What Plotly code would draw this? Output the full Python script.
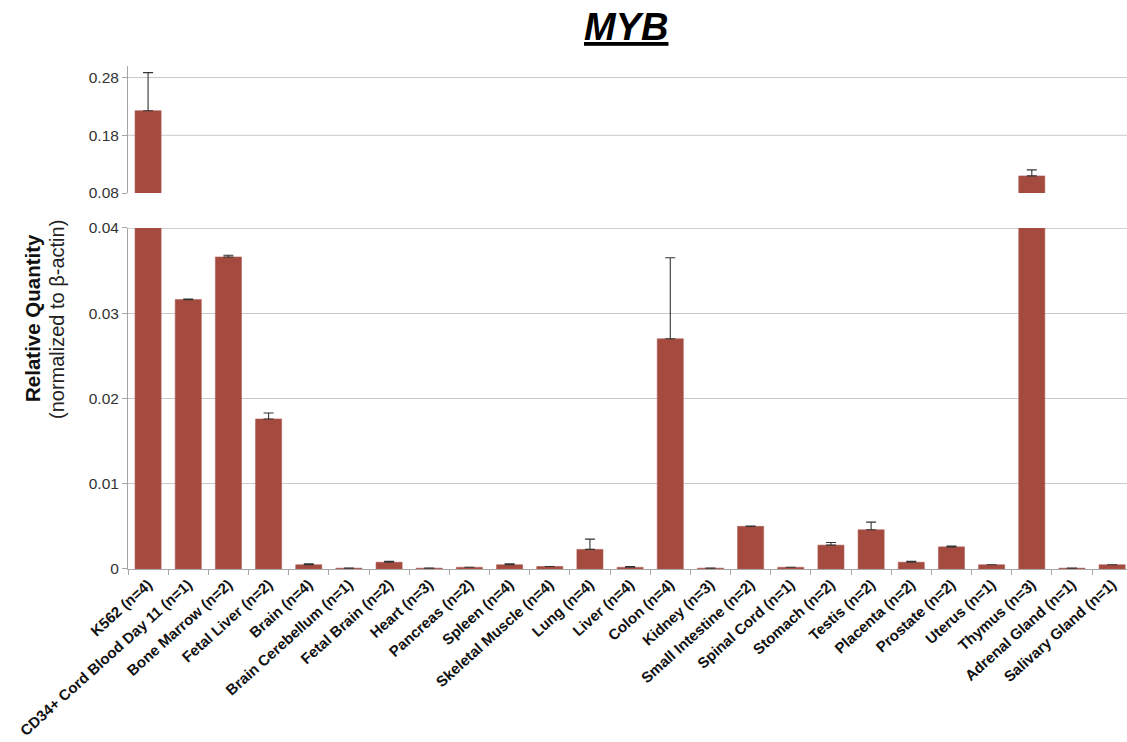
import plotly.graph_objects as go

# Tissue panel (qPCR), MYB expression relative to beta-actin
tissues = [
    "K562 (n=4)", "CD34+ Cord Blood Day 11 (n=1)", "Bone Marrow (n=2)",
    "Fetal Liver (n=2)", "Brain (n=4)", "Brain Cerebellum (n=1)",
    "Fetal Brain (n=2)", "Heart (n=3)", "Pancreas (n=2)", "Spleen (n=4)",
    "Skeletal Muscle (n=4)", "Lung (n=4)", "Liver (n=4)", "Colon (n=4)",
    "Kidney (n=3)", "Small Intestine (n=2)", "Spinal Cord (n=1)",
    "Stomach (n=2)", "Testis (n=2)", "Placenta (n=2)", "Prostate (n=2)",
    "Uterus (n=1)", "Thymus (n=3)", "Adrenal Gland (n=1)", "Salivary Gland (n=1)",
]
rel_quantity = [
    0.2226, 0.0316, 0.0366, 0.0176, 0.0005, 0.0001,
    0.0008, 0.0001, 0.0002, 0.0005, 0.0003, 0.0023,
    0.0002, 0.0270, 0.0001, 0.0050, 0.0002, 0.0028,
    0.0046, 0.0008, 0.0026, 0.0005, 0.1096, 0.0001, 0.0005,
]
err_plus = [
    0.0660, 0.00005, 0.0002, 0.0007, 0.0001, 0.0,
    0.0001, 0.0, 0.0, 0.0001, 0.0, 0.0012,
    0.0001, 0.0095, 0.0, 0.00005, 0.0, 0.0003,
    0.0009, 0.0001, 0.0001, 0.0, 0.0104, 0.0, 0.0,
]

low_ticks = [0, 0.01, 0.02, 0.03, 0.04]
low_text = ["0", "0.01", "0.02", "0.03", "0.04"]
high_ticks = [0.08, 0.18, 0.28]
high_text = ["0.08", "0.18", "0.28"]
high_grid = [0.18, 0.28]

BAR = "#A44A3F"
FONT = "Arial, Liberation Sans, sans-serif"
GRID = "#C9C9C9"

fig = go.Figure()
for xa, ya in (("x", "y"), ("x2", "y2")):
    fig.add_trace(go.Bar(
        x=tissues, y=rel_quantity, xaxis=xa, yaxis=ya,
        marker=dict(color=BAR, line=dict(color="#B0625A", width=0.6)),
        error_y=dict(type="data", symmetric=False, array=err_plus,
                     arrayminus=[0] * len(err_plus),
                     color="#333333", thickness=1.1, width=5),
        showlegend=False, hoverinfo="x+y",
    ))

axis_common = dict(showline=True, linecolor="#A6A6A6", linewidth=1,
                   ticks="outside", ticklen=5, tickcolor="#A6A6A6",
                   automargin=False, zeroline=False)

fig.update_layout(
    width=1127, height=742,
    margin=dict(l=128, r=0, t=66, b=173),
    paper_bgcolor="white", plot_bgcolor="white",
    bargap=0.35,
    font=dict(family=FONT, color="#333333"),
    xaxis=dict(anchor="y", domain=[0, 1], range=[-0.5, 24.37],
               tickson="boundaries", tickangle=-42,
               tickfont=dict(family=FONT, size=15, color="#111111"),
               tickvals=tissues, ticktext=[f"<b>{t}</b>" for t in tissues],
               showgrid=False, **axis_common),
    xaxis2=dict(anchor="y2", matches="x", domain=[0, 1], range=[-0.5, 24.37],
                visible=False),
    yaxis=dict(domain=[0, 0.678], range=[0, 0.04],
               tickvals=low_ticks, ticktext=low_text,
               tickfont=dict(size=15.5, color="#333333"),
               showgrid=True, gridcolor=GRID, gridwidth=1, **axis_common),
    yaxis2=dict(domain=[0.7475, 1], range=[0.08, 0.30], anchor="x2",
                tickvals=high_ticks, ticktext=high_text,
                tickfont=dict(size=15.5, color="#333333"),
                showgrid=False, layer="below traces", **axis_common),
)

# Gridlines of the upper (broken) panel, drawn under the bars
for g in high_grid:
    fig.add_shape(type="line", xref="x2 domain", yref="y2", x0=0, x1=1,
                  y0=g, y1=g, layer="below", line=dict(color=GRID, width=1))

# Darker rule along the top of the lower panel
fig.add_shape(type="line", xref="x domain", yref="y", x0=0, x1=1,
              y0=0.04, y1=0.04, layer="below",
              line=dict(color="#A0A0A0", width=1.2))

# Title
fig.add_annotation(text="<b><i><u>MYB</u></i></b>", xref="paper", yref="paper",
                   x=(626 - 128) / 999, xanchor="center",
                   y=(569 - 27) / 503, yanchor="middle", showarrow=False,
                   font=dict(family=FONT, size=38, color="#000000"))

# Y-axis title (two lines)
fig.add_annotation(text="<b>Relative Quantity</b>", xref="paper", yref="paper",
                   x=(32 - 128) / 999, y=(569 - 318) / 503, textangle=-90,
                   showarrow=False, xanchor="center", yanchor="middle",
                   font=dict(family=FONT, size=20.5, color="#111111"))
fig.add_annotation(text="(normalized to β-actin)", xref="paper", yref="paper",
                   x=(57 - 128) / 999, y=(569 - 320) / 503, textangle=-90,
                   showarrow=False, xanchor="center", yanchor="middle",
                   font=dict(family=FONT, size=20, color="#222222"))

fig.write_html("out.html")
